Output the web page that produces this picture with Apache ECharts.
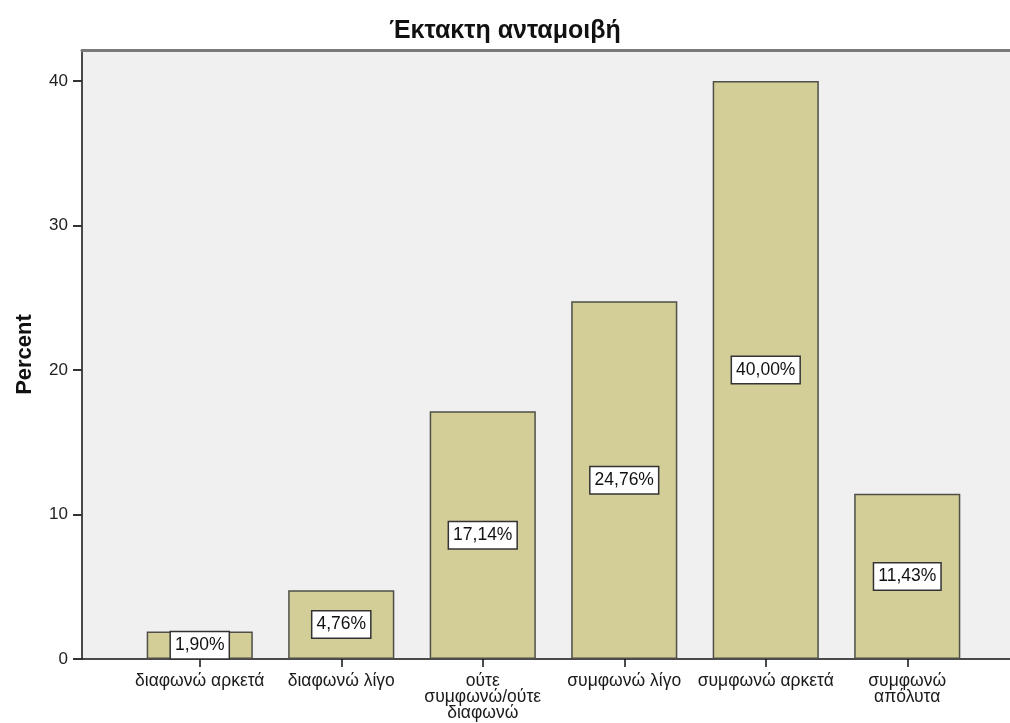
<!DOCTYPE html>
<html>
<head>
<meta charset="utf-8">
<script src="https://cdn.jsdelivr.net/npm/echarts@6/dist/echarts.min.js"></script>
<style>
  html, body { margin: 0; padding: 0; background: #ffffff; }
  #chart { width: 1010px; height: 723px; }
</style>
</head>
<body>
<div id="chart"></div>
<script>
// Response categories (Likert scale) and their percentages
const categories = [
  'διαφωνώ αρκετά',
  'διαφωνώ λίγο',
  'ούτε\nσυμφωνώ/ούτε\nδιαφωνώ',
  'συμφωνώ λίγο',
  'συμφωνώ αρκετά',
  'συμφωνώ\nαπόλυτα'
];
const percentValues = [1.90, 4.76, 17.14, 24.76, 40.00, 11.43];
const yTicks = [0, 10, 20, 30, 40];

const chartTitle = 'Έκτακτη ανταμοιβή';
const yAxisTitle = 'Percent';

const FONT = '"Liberation Sans", Arial, sans-serif';
const Y_MAX = 42.15;

const chart = echarts.init(document.getElementById('chart'), null, { renderer: 'canvas' });

chart.setOption({
  backgroundColor: '#ffffff',
  animation: false,
  title: {
    text: chartTitle,
    left: 'center',
    top: 14,
    textStyle: { fontFamily: FONT, fontSize: 25, fontWeight: 'bold', color: '#111' }
  },
  grid: [
    // frame: grey plot background, value axis, baseline and top rule
    { left: 82, right: 0, top: 50, bottom: 64, show: true, backgroundColor: '#f0f0f0', borderWidth: 0 },
    // category band where the bars sit
    { left: 129, width: 849, top: 50, bottom: 64 }
  ],
  xAxis: [
    {
      gridIndex: 0, type: 'value', position: 'bottom', min: 0, max: 1,
      axisLine: { show: true, lineStyle: { color: '#111', width: 1.5 } },
      axisTick: { show: false }, axisLabel: { show: false }, splitLine: { show: false }
    },
    {
      gridIndex: 0, type: 'value', position: 'top', min: 0, max: 1,
      axisLine: { show: true, lineStyle: { color: '#7a7a7a', width: 3 } },
      axisTick: { show: false }, axisLabel: { show: false }, splitLine: { show: false }
    },
    {
      gridIndex: 1, type: 'category', data: categories, boundaryGap: true,
      axisLine: { show: false },
      axisTick: { show: true, alignWithLabel: true, length: 8, lineStyle: { color: '#111', width: 1.5 } },
      axisLabel: {
        interval: 0, margin: 14, fontFamily: FONT, fontSize: 17.5, color: '#1a1a1a',
        lineHeight: 16
      },
      splitLine: { show: false }
    }
  ],
  yAxis: [
    {
      gridIndex: 0, type: 'value', min: 0, max: Y_MAX,
      name: yAxisTitle, nameLocation: 'middle', nameGap: 46, nameRotate: 90,
      nameTextStyle: { fontFamily: FONT, fontSize: 22, fontWeight: 'bold', color: '#111' },
      axisLine: { show: true, lineStyle: { color: '#111', width: 1.5 } },
      axisTick: { show: true, length: 9, customValues: yTicks, lineStyle: { color: '#333', width: 2 } },
      axisLabel: { margin: 14, customValues: yTicks, fontFamily: FONT, fontSize: 17, color: '#222' },
      splitLine: { show: false }
    },
    {
      gridIndex: 1, type: 'value', min: 0, max: Y_MAX, show: false
    }
  ],
  series: [
    {
      type: 'bar',
      xAxisIndex: 2,
      yAxisIndex: 1,
      data: percentValues,
      barWidth: '75%',
      itemStyle: { color: '#d3ce97', borderColor: '#4f4f48', borderWidth: 1.5 },
      label: {
        show: true,
        position: 'inside',
        formatter: p => p.value.toFixed(2).replace('.', ',') + '%',
        fontFamily: FONT,
        fontSize: 17.5,
        color: '#111',
        backgroundColor: '#ffffff',
        borderColor: '#333333',
        borderWidth: 1.5,
        padding: [4, 4, 4, 4]
      }
    }
  ]
});
</script>
</body>
</html>
